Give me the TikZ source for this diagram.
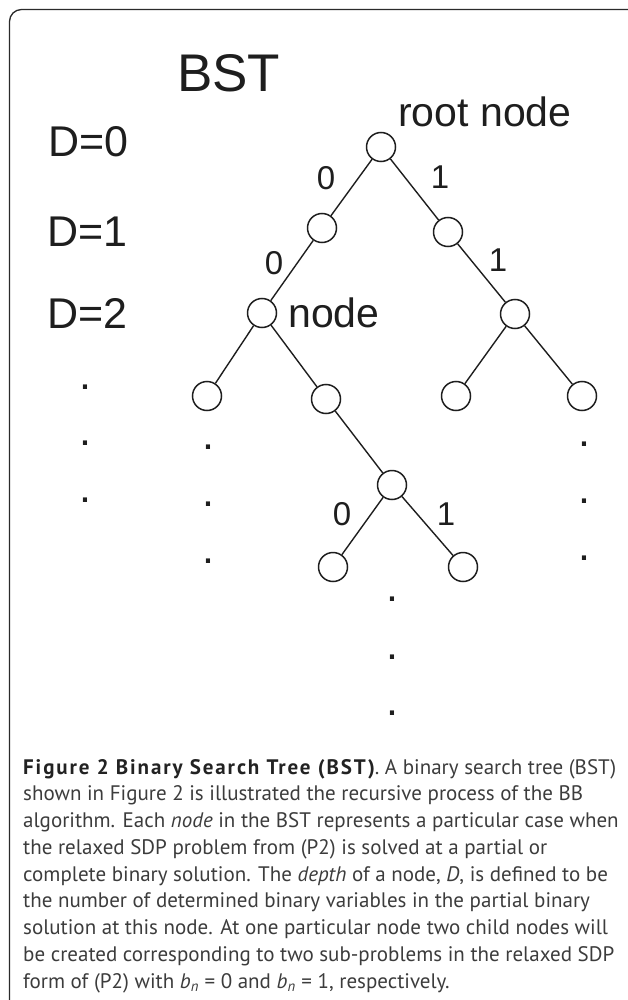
\documentclass[tikz,border=0pt]{standalone}
\usepackage{fontspec}
\setmainfont{Liberation Sans}
\newfontfamily\capfont{PT Sans}
\newfontfamily\capboldfont[LetterSpace=9]{PT Sans}
\definecolor{ink}{HTML}{1E1E1E}
\definecolor{captext}{HTML}{3C3C3C}
\definecolor{capbold}{HTML}{222222}
\definecolor{framecol}{HTML}{2A2A2A}
\tikzset{
  treenode/.style={circle, draw=ink, line width=1.5pt, minimum size=29pt, inner sep=0pt},
  branch/.style={draw=ink, line width=1.4pt},
  bit/.style={font=\fontsize{33}{33}\selectfont, text=ink, inner sep=0pt},
  depthlab/.style={font=\fontsize{43}{43}\selectfont, anchor=base west, inner sep=0pt, text=ink},
  bigdot/.style={font=\fontsize{43}{43}\selectfont, anchor=base, inner sep=0pt, text=ink},
  tag/.style={font=\fontsize{41}{41}\selectfont, anchor=base west, inner sep=0pt, text=ink},
  capline/.style={anchor=base west, inner sep=0pt, font=\capfont\fontsize{21}{21}\selectfont, text=captext}
}
\begin{document}
\begin{tikzpicture}[x=1pt,y=-1pt]
\useasboundingbox (0,0) rectangle (627,1000);
% frame
\draw[framecol, line width=1.3pt, rounded corners=12pt] (9.5,1003) -- (9.5,9.5) -- (630,9.5);

% title and depth scale
\node[font=\fontsize{53}{53}\selectfont, anchor=base west, inner sep=0pt, text=ink] (title) at (177,92) {BST};
\node[depthlab] (d0) at (48,157) {D=0};
\node[depthlab] (d1) at (47,246) {D=1};
\node[depthlab] (d2) at (47,328) {D=2};

% tree nodes
\node[treenode] (root) at (381,147) {};
\node[treenode] (l1) at (322,228) {};
\node[treenode] (r1) at (448,232) {};
\node[treenode] (l2) at (262,313) {};
\node[treenode] (r2) at (515,314) {};
\node[treenode] (l3a) at (207,396) {};
\node[treenode] (l3b) at (326,399) {};
\node[treenode] (r3a) at (456,396) {};
\node[treenode] (r3b) at (582,396) {};
\node[treenode] (l4) at (392,485) {};
\node[treenode] (l5a) at (333,567) {};
\node[treenode] (l5b) at (463,567) {};

% branches
\draw[branch] (root) -- (l1);
\draw[branch] (root) -- (r1);
\draw[branch] (l1) -- (l2);
\draw[branch] (r1) -- (r2);
\draw[branch] (l2) -- (l3a);
\draw[branch] (l2) -- (l3b);
\draw[branch] (r2) -- (r3a);
\draw[branch] (r2) -- (r3b);
\draw[branch] (l3b) -- (l4);
\draw[branch] (l4) -- (l5a);
\draw[branch] (l4) -- (l5b);

% node labels
\node[tag] (rootlab) at (398,127) {root node};
\node[tag] (nodelab) at (288,327) {node};

% branch bits
\node[bit] (b1) at (326,178) {0};
\node[bit] (b2) at (440,177) {1};
\node[bit] (b3) at (274,263) {0};
\node[bit] (b4) at (498,260) {1};
\node[bit] (b5) at (342,514) {0};
\node[bit] (b6) at (446,514) {1};

% continuation dots
\foreach \x/\y [count=\i] in {85/387, 85/443, 85/500,
                               208/447, 208/504, 208/561,
                               584/444, 584/501, 584/558,
                               392/599, 392/657, 392/713}
  \node[bigdot] (dot\i) at (\x,\y+2) {.};

% caption
\node[capline] (c1) at (23,774) {{\capboldfont\color{capbold}\bfseries Figure 2 Binary Search Tree (BST)}. A binary search tree (BST)};
\node[capline] (c2) at (23,800.75) {shown in Figure 2 is illustrated the recursive process of the BB};
\node[capline] (c3) at (23,827.5) {algorithm. Each \textit{node} in the BST represents a particular case when};
\node[capline] (c4) at (23,854.25) {the relaxed SDP problem from (P2) is solved at a partial or};
\node[capline] (c5) at (23,881) {complete binary solution. The \textit{depth} of a node, \textit{D}, is defined to be};
\node[capline] (c6) at (23,907.75) {the number of determined binary variables in the partial binary};
\node[capline] (c7) at (23,934.5) {solution at this node. At one particular node two child nodes will};
\node[capline] (c8) at (23,961.25) {be created corresponding to two sub-problems in the relaxed SDP};
\node[capline] (c9) at (23,988) {form of (P2) with \textit{b}\textsubscript{\textit{n}} = 0 and \textit{b}\textsubscript{\textit{n}} = 1, respectively.};
\end{tikzpicture}
\end{document}
